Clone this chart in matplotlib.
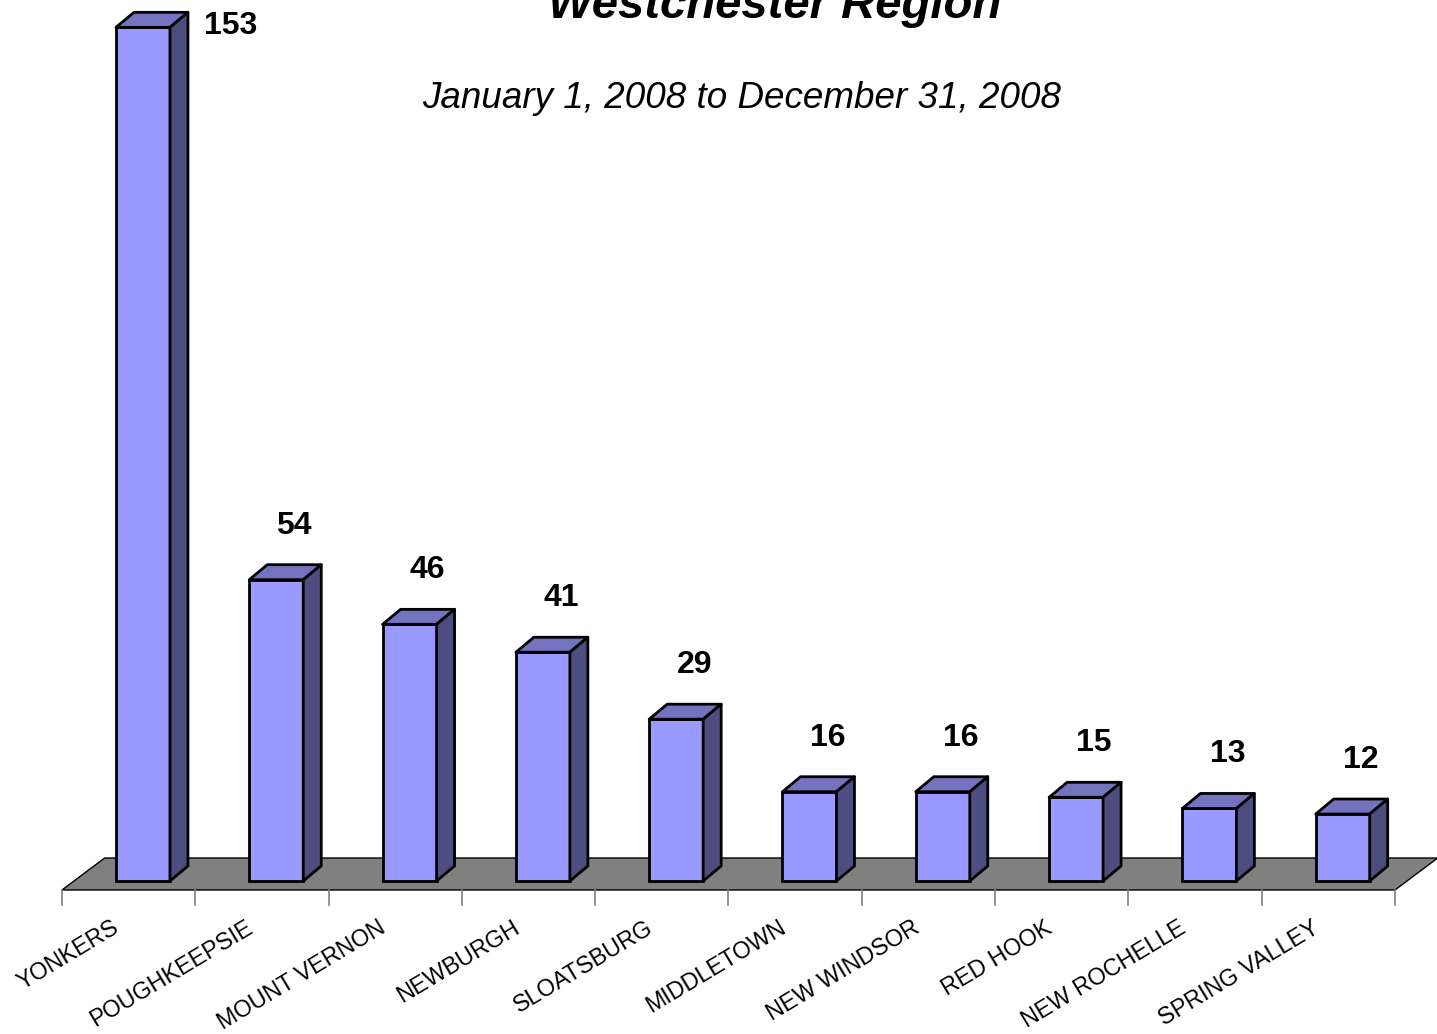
import matplotlib.pyplot as plt
from matplotlib.patches import Polygon

# données
villes = ["YONKERS", "POUGHKEEPSIE", "MOUNT VERNON", "NEWBURGH", "SLOATSBURG",
          "MIDDLETOWN", "NEW WINDSOR", "RED HOOK", "NEW ROCHELLE", "SPRING VALLEY"]
valeurs = [153, 54, 46, 41, 29, 16, 16, 15, 13, 12]

titre = "Westchester Region"
sous_titre = "January 1, 2008 to December 31, 2008"

# couleurs
c_face = "#9999FF"
c_haut = "#7373BF"
c_cote = "#4D4D80"
c_sol = "#808080"

plt.rcParams['font.family'] = ['Liberation Sans', 'DejaVu Sans']

fig = plt.figure(figsize=(14.37, 10.34), dpi=100)
ax = fig.add_axes([0, 0, 1, 1])
ax.set_xlim(-0.465, 10.315)
ax.set_ylim(-27.42, 157.9)
ax.axis('off')

n = len(villes)

# effet 3D (en unités de données)
prof_x, prof_y = 0.135, 2.69      # profondeur des barres
sol_x, sol_y = 0.32, 5.73         # profondeur du sol
sol_avant = -1.61

# sol gris
sol = Polygon([(0, sol_avant), (n, sol_avant), (n + sol_x, sol_avant + sol_y),
               (sol_x, sol_avant + sol_y)], closed=True,
              facecolor=c_sol, edgecolor='black', linewidth=1, zorder=1)
ax.add_patch(sol)

# graduations
for i in range(n + 1):
    ax.plot([i, i], [sol_avant, -4.3], color='#808080', linewidth=1.2, zorder=1)

# barres
gauche = 0.405
largeur = 0.405
xs = [i + gauche for i in range(n)]
ax.bar(xs, valeurs, width=largeur, align='edge', color=c_face,
       edgecolor='black', linewidth=2, zorder=3)

for x0, v in zip(xs, valeurs):
    x1 = x0 + largeur
    haut = Polygon([(x0, v), (x1, v), (x1 + prof_x, v + prof_y), (x0 + prof_x, v + prof_y)],
                   closed=True, facecolor=c_haut, edgecolor='black', linewidth=2,
                   joinstyle='round', zorder=3)
    cote = Polygon([(x1, 0), (x1 + prof_x, prof_y), (x1 + prof_x, v + prof_y), (x1, v)],
                   closed=True, facecolor=c_cote, edgecolor='black', linewidth=2,
                   joinstyle='round', zorder=3)
    ax.add_patch(haut)
    ax.add_patch(cote)

# étiquettes des valeurs
vmax = max(valeurs)
for x0, v in zip(xs, valeurs):
    if v == vmax:
        ax.text(x0 + largeur + prof_x + 0.12, v + 0.3, str(v), ha='left', va='center',
                fontsize=23, fontweight='bold', zorder=4)
    else:
        ax.text(x0 + largeur / 2 + prof_x, v + prof_y + 7.0, str(v), ha='center',
                va='center', fontsize=23, fontweight='bold', zorder=4)

# étiquettes des catégories
for i, nom in enumerate(villes):
    ax.text(i + 0.46, -6.3, nom, rotation=31, ha='right', va='top', fontsize=16.8)

# titres
fig.text(0.539, 1 - 18 / 1034, titre, ha='center', va='baseline', fontsize=34,
         fontweight='bold', fontstyle='italic')
fig.text(0.516, 1 - 108 / 1034, sous_titre, ha='center', va='baseline', fontsize=26.5,
         fontstyle='italic')

fig.savefig("out.png", dpi=100)
